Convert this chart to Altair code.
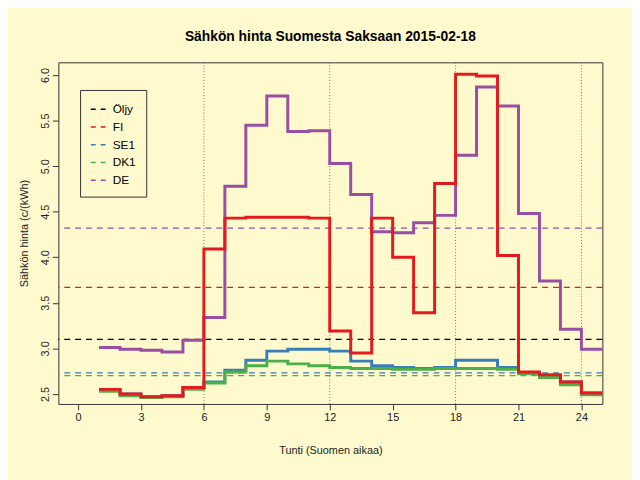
import altair as alt
import pandas as pd

hours = list(range(1, 26))
fi = [2.55,2.50,2.47,2.48,2.57,4.09,4.43,4.44,4.44,4.44,4.43,3.19,2.95,4.43,4.00,3.39,4.81,6.01,5.99,4.02,2.74,2.71,2.63,2.51]
se1 = [2.55,2.50,2.47,2.48,2.57,2.63,2.76,2.87,2.97,2.99,2.99,2.97,2.86,2.81,2.79,2.78,2.79,2.87,2.87,2.79,2.73,2.70,2.63,2.51]
dk1 = [2.53,2.48,2.46,2.47,2.55,2.62,2.74,2.81,2.86,2.83,2.81,2.79,2.78,2.78,2.77,2.77,2.78,2.78,2.78,2.77,2.72,2.68,2.60,2.49]
de = [3.01,2.99,2.98,2.96,3.09,3.34,4.78,5.45,5.77,5.38,5.39,5.03,4.69,4.28,4.27,4.38,4.46,5.12,5.87,5.66,4.48,3.74,3.21,2.99]
names = ["Öljy", "FI", "SE1", "DK1", "DE"]
means = [3.10, 3.67, 2.73, 2.70, 4.32]
colors = ["#000000", "#E41A1C", "#377EB8", "#4DAF4A", "#984EA3"]

series = {"SE1": se1, "DK1": dk1, "DE": de, "FI": fi}
order = {"SE1": 0, "DK1": 1, "DE": 2, "FI": 3}
rows = []
for n, vals in series.items():
    v = vals + [vals[-1]]
    for h, y in zip(hours, v):
        rows.append({"h": h, "v": y, "s": n, "o": order[n]})
df = pd.DataFrame(rows)
mdf = pd.DataFrame({"s": names, "v": means})

xs = alt.Scale(domain=[-0.94, 25], nice=False, zero=False)
ys = alt.Scale(domain=[2.39, 6.14], nice=False, zero=False)
cs = alt.Scale(domain=names, range=colors)

grid = alt.Chart(pd.DataFrame({"g": [6, 12, 18, 24]})).mark_rule(
    color="#555555", strokeDash=[1, 2], strokeWidth=0.8
).encode(x=alt.X("g:Q", scale=xs))

mlines = alt.Chart(mdf).mark_rule(strokeDash=[6, 5], strokeWidth=1.3).encode(
    y=alt.Y("v:Q", scale=ys),
    color=alt.Color("s:N", scale=cs, legend=alt.Legend(
        title=None, orient="none", legendX=22, legendY=28, symbolType="stroke",
        symbolDash=[5, 5], symbolStrokeWidth=1.5, symbolSize=300,
        strokeColor="#333333", fillColor="#FFFACD", padding=10,
        labelFontSize=12, labelFont="Liberation Sans", rowPadding=2)),
)

steps = alt.Chart(df).mark_line(interpolate="step-after", strokeWidth=3).encode(
    x=alt.X("h:Q", scale=xs, title="Tunti (Suomen aikaa)",
            axis=alt.Axis(values=[0, 3, 6, 9, 12, 15, 18, 21, 24], grid=False)),
    y=alt.Y("v:Q", scale=ys, title="Sähkön hinta (c/(kWh)",
            axis=alt.Axis(values=[2.5, 3.0, 3.5, 4.0, 4.5, 5.0, 5.5, 6.0], format=".1f",
                          labelAngle=-90, labelAlign="center", labelBaseline="bottom",
                          grid=False)),
    color=alt.Color("s:N", scale=cs, legend=None),
    order="o:Q",
    detail="s:N",
)

chart = alt.layer(grid, mlines, steps).resolve_scale(color="shared").properties(
    width=551, height=346,
    title=alt.TitleParams("Sähkön hinta Suomesta Saksaan 2015-02-18", fontSize=14,
                          font="Liberation Sans", fontWeight="bold", offset=18),
    background="#FFFACD",
    autosize=alt.AutoSizeParams(type="none"),
    padding={"left": 51, "top": 52, "right": 30, "bottom": 74},
).configure_view(stroke="#333333", strokeWidth=1).configure_axis(
    labelFont="Liberation Sans", titleFont="Liberation Sans", labelFontSize=11,
    titleFontSize=11, titleFontWeight="normal", domain=False, tickColor="#333333",
    labelColor="#222222", titleColor="#222222", tickSize=6
).configure_axisX(titlePadding=22).configure_axisY(titlePadding=10)

chart.save("out.html", embed_options={"renderer": "svg", "actions": False})
